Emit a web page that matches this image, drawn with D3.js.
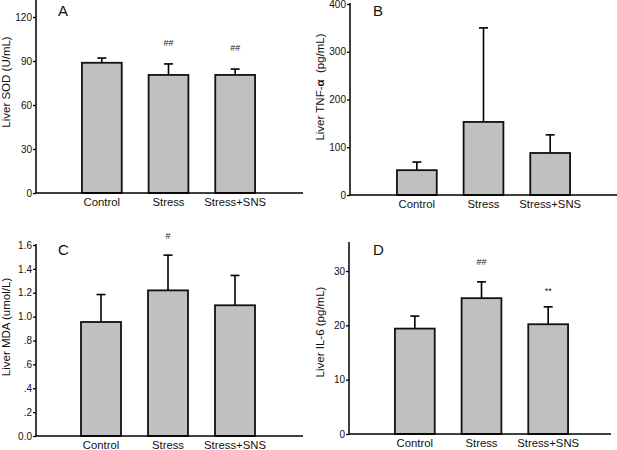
<!DOCTYPE html>
<html><head><meta charset="utf-8">
<script src="https://cdn.jsdelivr.net/npm/d3@7"></script>
<style>body{margin:0;background:#fff}svg{display:block}text{font-family:"Liberation Sans",Arial,sans-serif}</style>
</head><body><svg id="c" width="617" height="450"></svg>
<script>
const categories = ["Control", "Stress", "Stress+SNS"];
const sodMean = [88.8, 80.5, 80.5];
const sodErr = [92, 88, 84.5];
const sodMarks = ["", "##", "##"];
const tnfMean = [52, 153, 88];
const tnfErr = [69, 350, 126];
const tnfMarks = ["", "", ""];
const mdaMean = [0.955, 1.22, 1.095];
const mdaErr = [1.185, 1.515, 1.345];
const mdaMarks = ["", "#", ""];
const il6Mean = [19.4, 25.0, 20.2];
const il6Err = [21.7, 28.0, 23.4];
const il6Marks = ["", "##", "**"];
const sodTicks = [0, 30, 60, 90, 120];
const tnfTicks = [0, 100, 200, 300, 400];
const mdaTicks = [0, 0.2, 0.4, 0.6, 0.8, 1.0, 1.2, 1.4, 1.6];
const mdaTickLabels = ["0.0", ".2", ".4", ".6", ".8", "1.0", "1.2", "1.4", "1.6"];
const il6Ticks = [0, 10, 20, 30];

const svg = d3.select("#c");

function panel(o) {
  const g = svg.append("g");
  const y = d3.scaleLinear().domain([0, o.ymax]).range([o.y0, o.y1]);
  const x = d3.scaleBand().domain(categories).range([o.bx0, o.bx1]).paddingInner(0.403).paddingOuter(0.2);
  categories.forEach((c, i) => {
    const bx = x(c), bw = x.bandwidth(), cx = bx + bw / 2;
    g.append("line").attr("x1", cx).attr("x2", cx).attr("y1", y(o.mean[i])).attr("y2", y(o.err[i]))
      .attr("stroke", "#000").attr("stroke-width", 1.6);
    g.append("line").attr("x1", cx - 4.5).attr("x2", cx + 4.5).attr("y1", y(o.err[i])).attr("y2", y(o.err[i]))
      .attr("stroke", "#000").attr("stroke-width", 1.6);
    g.append("rect").attr("x", bx).attr("y", y(o.mean[i])).attr("width", bw).attr("height", y(0) - y(o.mean[i]))
      .attr("fill", "#c0c0c0").attr("stroke", "#111").attr("stroke-width", 1.8);
    if (o.marks[i]) {
      const gap = o.marks[i] === "**" ? o.markGap - 4 : o.markGap;
      g.append("text").attr("x", cx).attr("y", y(o.err[i]) - gap).attr("text-anchor", "middle")
        .attr("font-size", 9).attr("fill", "#222").text(o.marks[i]);
    }
  });
  const ya = d3.axisLeft(y).tickValues(o.ticks).tickSize(3).tickPadding(1)
    .tickFormat((d, i) => o.tickLabels ? o.tickLabels[i] : d);
  const yg = g.append("g").attr("transform", `translate(${o.ax},0)`).call(ya);
  yg.select(".domain").remove();
  yg.selectAll(".tick line").attr("stroke", "#000").attr("stroke-width", 1.3);
  yg.selectAll("text").attr("font-size", 10).attr("font-family", '"Liberation Sans",Arial,sans-serif').attr("fill", "#111");
  g.append("line").attr("x1", o.ax).attr("x2", o.ax).attr("y1", o.axTop).attr("y2", o.y0 + 0.5)
    .attr("stroke", "#000").attr("stroke-width", 1.5);
  g.append("line").attr("x1", o.ax).attr("x2", o.axRight).attr("y1", o.y0).attr("y2", o.y0)
    .attr("stroke", "#000").attr("stroke-width", 1.5);
  categories.forEach(c => {
    g.append("text").attr("x", x(c) + x.bandwidth() / 2).attr("y", o.y0 + 13).attr("text-anchor", "middle")
      .attr("font-size", 11.3).attr("fill", "#111").text(c);
  });
  const t = g.append("text").attr("transform", `translate(${o.tx},${o.ty}) rotate(-90)`).attr("text-anchor", "middle")
    .attr("font-size", 11.5).attr("fill", "#111");
  o.title(t);
  g.append("text").attr("x", o.lx).attr("y", o.ly).attr("font-size", 15).attr("fill", "#111").text(o.letter);
}

panel({ mean: sodMean, err: sodErr, marks: sodMarks, ticks: sodTicks, ymax: 120, y0: 193, y1: 17, ax: 36, axTop: 0, axRight: 303,
  bx0: 68.6, bx1: 268.4, markGap: 18, tx: 10, ty: 82, lx: 58, ly: 16, letter: "A",
  title: t => t.text("Liver SOD (U/mL)") });
panel({ mean: tnfMean, err: tnfErr, marks: tnfMarks, ticks: tnfTicks, ymax: 400, y0: 195, y1: 4, ax: 350, axTop: 3, axRight: 617,
  bx0: 383.6, bx1: 583.4, markGap: 18, tx: 324, ty: 87, lx: 373, ly: 16, letter: "B",
  title: t => { t.append("tspan").text("Liver TNF-"); t.append("tspan").attr("font-weight", "bold").text("α"); t.append("tspan").text("\u00a0\u00a0(pg/mL)"); } });
panel({ mean: mdaMean, err: mdaErr, marks: mdaMarks, ticks: mdaTicks, tickLabels: mdaTickLabels, ymax: 1.6, y0: 436, y1: 245, ax: 36, axTop: 244, axRight: 303,
  bx0: 67.6, bx1: 268.4, markGap: 16, tx: 10, ty: 327, lx: 58, ly: 255, letter: "C",
  title: t => t.text("Liver MDA (umol/L)") });
panel({ mean: il6Mean, err: il6Err, marks: il6Marks, ticks: il6Ticks, ymax: 30, y0: 434, y1: 271, ax: 349, axTop: 242, axRight: 611,
  bx0: 381.6, bx1: 581.4, markGap: 17, tx: 324, ty: 332, lx: 373, ly: 255, letter: "D",
  title: t => t.text("Liver IL-6 (pg/mL)") });
</script></body></html>
